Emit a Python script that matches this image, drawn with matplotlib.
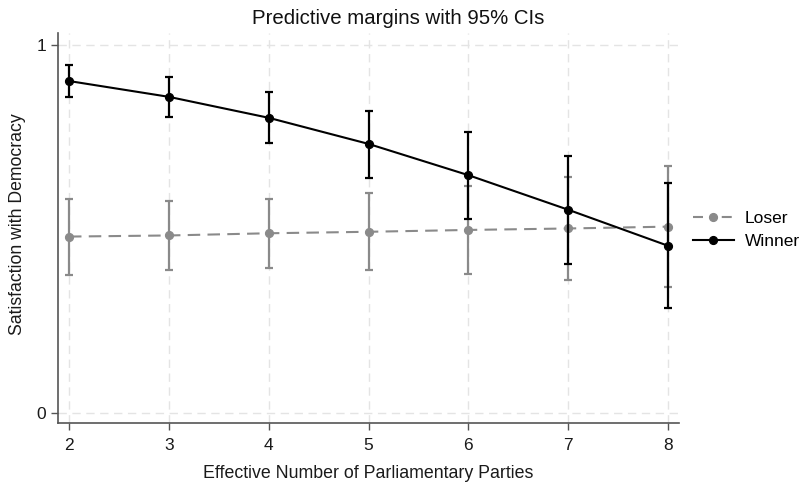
import matplotlib
matplotlib.use("Agg")
import matplotlib.pyplot as plt
from matplotlib.lines import Line2D

plt.rcParams['font.family'] = ['Liberation Sans', 'DejaVu Sans']

enpp = [2, 3, 4, 5, 6, 7, 8]
winner = [0.902, 0.859, 0.802, 0.731, 0.646, 0.552, 0.454]
winner_lo = [0.859, 0.805, 0.733, 0.639, 0.527, 0.405, 0.285]
winner_hi = [0.945, 0.914, 0.872, 0.821, 0.763, 0.699, 0.626]
loser = [0.479, 0.482, 0.488, 0.492, 0.497, 0.501, 0.506]
loser_lo = [0.375, 0.388, 0.394, 0.388, 0.377, 0.362, 0.341]
loser_hi = [0.582, 0.577, 0.582, 0.598, 0.617, 0.642, 0.670]
yticks = [0, 1]

LOSER_C = '#8a8a8a'
WINNER_C = '#000000'

fig = plt.figure(figsize=(8.01, 4.83), dpi=100)
ax = fig.add_axes([0.0724, 0.1242, 0.7753, 0.8075])

grid_kw = dict(color='#e4e4e4', lw=1.0, ls=(0, (6, 4)), zorder=0)
for x in enpp:
    ax.axvline(x, **grid_kw)
for y in yticks:
    ax.axhline(y, **grid_kw)

def ebar(vals, lo, hi, color, ls, z):
    yerr = [[v - l for v, l in zip(vals, lo)], [h - v for v, h in zip(vals, hi)]]
    ax.errorbar(enpp, vals, yerr=yerr, fmt='none', ecolor=color, elinewidth=1.6,
                capsize=2.8, capthick=1.6, zorder=z)
    ax.plot(enpp, vals, color=color, ls=ls, lw=1.5, marker='o', markersize=5.6,
            zorder=z + 1)

ebar(loser, loser_lo, loser_hi, LOSER_C, (0, (6, 3.5)), 2)
ebar(winner, winner_lo, winner_hi, WINNER_C, '-', 4)

ax.set_xlim(1.89, 8.11)
ax.set_ylim(-0.028, 1.0326)
ax.set_xticks(enpp)
ax.set_yticks(yticks)
ax.set_yticklabels(['0', '1'])
for s in ['top', 'right']:
    ax.spines[s].set_visible(False)
for s in ['left', 'bottom']:
    ax.spines[s].set_color('#555555')
    ax.spines[s].set_linewidth(1.2)
ax.tick_params(colors='#555555', labelcolor='#1a1a1a', labelsize=12.5, width=1.0,
               length=5.3, pad=3.4)
ax.tick_params(axis='x', pad=5.6)

fig.text(0.4975, 1 - 18.5 / 483, 'Predictive margins with 95% CIs', fontsize=14.7,
         color='#111111', ha='center', va='center')
ax.set_xlabel('Effective Number of Parliamentary Parties', fontsize=12.8, color='#1a1a1a', labelpad=8.6)
ax.set_ylabel('Satisfaction with Democracy', fontsize=12.7, color='#1a1a1a')
ax.yaxis.set_label_coords(-0.0508, 0.51)

handles = [
    Line2D([], [], color=LOSER_C, lw=1.5, ls=(0, (4.8, 9.0)), marker='o', markersize=5.6),
    Line2D([], [], color=WINNER_C, lw=1.5, ls='-', marker='o', markersize=5.6),
]
leg = ax.legend(handles, ['Loser', 'Winner'], loc='center left',
                bbox_to_anchor=(1.0 + 14 / 621, 0.495), frameon=False,
                fontsize=12.5, handlelength=2.36, handletextpad=0.63, labelspacing=0.45,
                borderpad=0, borderaxespad=0)

fig.savefig('out.png', dpi=100)
